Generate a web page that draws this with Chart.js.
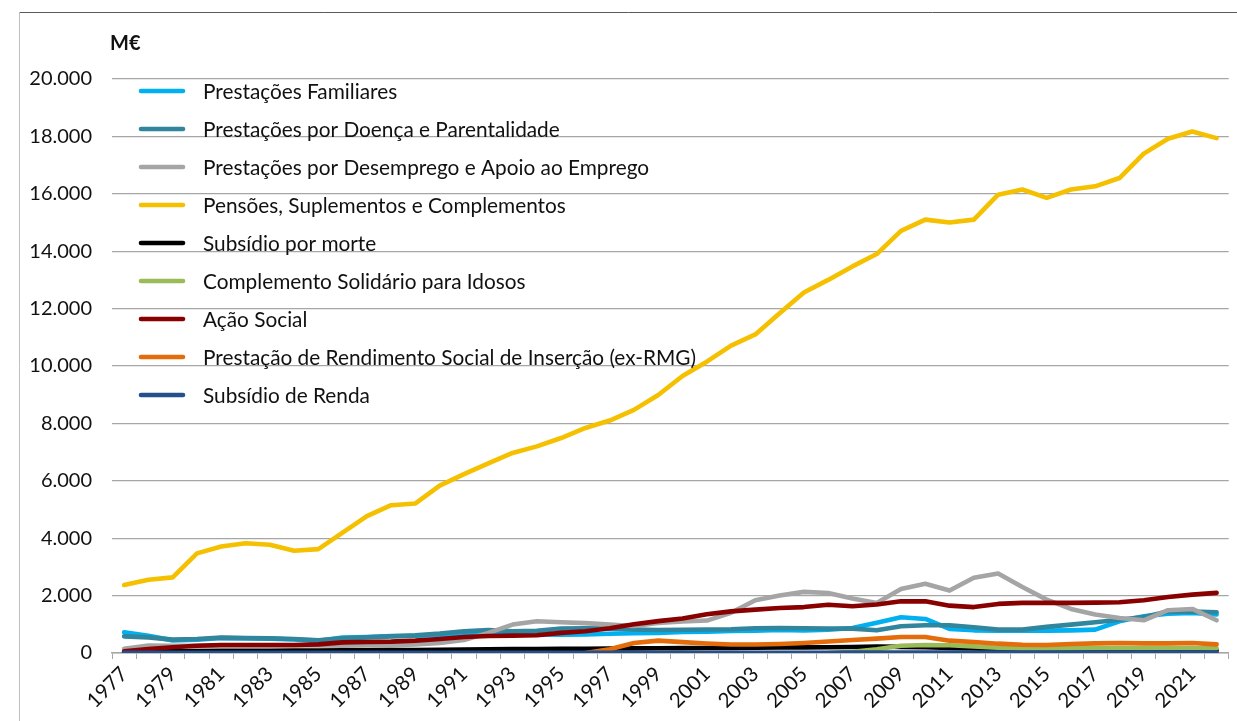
<!DOCTYPE html>
<html><head><meta charset="utf-8">
<script src="https://cdn.jsdelivr.net/npm/chart.js@4.4.1/dist/chart.umd.min.js"></script>
<style>html,body{margin:0;padding:0;background:#fff;}canvas{display:block}</style>
</head><body>
<canvas id="c" width="1237" height="721"></canvas>
<script>
const years = ['1977','1978','1979','1980','1981','1982','1983','1984','1985','1986','1987','1988','1989','1990','1991','1992','1993','1994','1995','1996','1997','1998','1999','2000','2001','2002','2003','2004','2005','2006','2007','2008','2009','2010','2011','2012','2013','2014','2015','2016','2017','2018','2019','2020','2021','2022'];
const yTickLabels = ['0','2.000','4.000','6.000','8.000','10.000','12.000','14.000','16.000','18.000','20.000'];
const unitLabel = 'M€';

const seriesNames = ['Prestações Familiares','Prestações por Doença e Parentalidade','Prestações por Desemprego e Apoio ao Emprego','Pensões, Suplementos e Complementos','Subsídio por morte','Complemento Solidário para Idosos','Ação Social','Prestação de Rendimento Social de Inserção (ex-RMG)','Subsídio de Renda'];
const seriesColors = ['#00B0F0','#31859C','#A5A5A5','#F5C000','#000000','#9BBB59','#880000','#E46C0A','#24508C'];

const familiares = [720,600,440,460,520,510,500,470,430,540,560,590,600,630,660,680,660,650,640,650,670,690,700,730,740,770,780,800,790,810,870,1050,1245,1185,840,790,780,780,780,790,815,1105,1280,1370,1395,1340];
const doenca = [580,545,465,490,535,525,510,490,440,510,545,580,615,675,755,800,760,770,850,860,850,820,800,810,820,830,860,870,860,850,850,790,930,965,965,895,815,815,910,990,1070,1160,1255,1450,1440,1420];
const desemprego = [150,260,250,250,260,260,260,260,260,250,260,270,300,350,450,700,990,1105,1070,1040,990,940,1050,1100,1130,1400,1840,2000,2130,2090,1900,1745,2230,2410,2175,2620,2770,2300,1860,1535,1340,1220,1140,1490,1535,1140];
const pensoes = [2370,2555,2635,3470,3710,3825,3770,3560,3620,4195,4770,5150,5210,5830,6230,6610,6970,7200,7490,7840,8100,8470,8990,9650,10150,10710,11100,11840,12560,13000,13470,13900,14710,15100,15000,15100,15970,16150,15860,16150,16260,16550,17400,17920,18170,17940];
const morte = [30,50,60,70,75,80,80,85,85,90,95,100,105,110,120,130,135,140,145,150,155,160,165,170,175,180,185,190,195,200,210,225,215,200,180,160,115,95,90,90,90,95,95,95,95,95];
const csi = [null,null,null,null,null,null,null,null,null,null,null,null,null,null,null,null,null,null,null,null,null,null,null,null,null,null,null,null,null,0,40,130,250,280,270,230,185,160,160,170,175,175,175,175,175,165];
const acaoSocial = [60,140,200,255,280,280,280,280,300,370,385,395,430,490,555,590,605,620,700,760,860,1000,1110,1200,1350,1450,1510,1570,1600,1680,1630,1690,1800,1800,1650,1600,1710,1745,1745,1745,1755,1770,1840,1950,2035,2095];
const rsi = [null,null,null,null,null,null,null,null,null,null,null,null,null,null,null,null,null,null,null,0,130,350,430,380,330,295,295,315,350,400,455,500,560,560,430,385,325,290,280,315,337,350,337,337,350,300];
const renda = [5,5,5,5,5,5,5,5,5,5,5,5,5,5,5,5,5,5,5,5,5,5,5,5,5,5,5,5,5,10,15,20,20,20,20,20,20,20,20,20,20,20,20,20,20,20];

const seriesData = [familiares, doenca, desemprego, pensoes, morte, csi, acaoSocial, rsi, renda];

const FONT = 'Lato';
const TEXT = '#111111';
const GRID = '#A6A6A6';

const datasets = seriesData.map((d, i) => ({
  label: seriesNames[i],
  data: d,
  borderColor: seriesColors[i],
  backgroundColor: seriesColors[i],
  borderWidth: 4.6,
  pointRadius: 0,
  tension: 0,
  borderJoinStyle: 'round',
  borderCapStyle: 'round',
  spanGaps: false,
  order: seriesData.length - 1 - i
}));

const framePlugin = {
  id: 'frame',
  beforeDraw(chart) {
    const ctx = chart.ctx;
    ctx.save();
    ctx.fillStyle = '#fff';
    ctx.fillRect(0, 0, chart.width, chart.height);
    ctx.lineWidth = 1;
    ctx.strokeStyle = '#5a5a5a';
    ctx.beginPath(); ctx.moveTo(19.5, 12.5); ctx.lineTo(chart.width, 12.5); ctx.stroke();
    ctx.strokeStyle = '#BFBFBF';
    ctx.beginPath(); ctx.moveTo(19.5, 12.5); ctx.lineTo(19.5, chart.height); ctx.stroke();
    ctx.fillStyle = TEXT;
    ctx.font = 'bold 20px ' + FONT;
    ctx.textAlign = 'left';
    ctx.textBaseline = 'alphabetic';
    ctx.fillText(unitLabel, 110, 50);
    ctx.restore();
  }
};

const legendPlugin = {
  id: 'innerLegend',
  afterDatasetsDraw(chart) {
    const ctx = chart.ctx;
    ctx.save();
    ctx.font = '20.8px ' + FONT;
    ctx.textAlign = 'left';
    ctx.textBaseline = 'middle';
    seriesNames.forEach((name, i) => {
      const y = 91 + 38 * i;
      ctx.strokeStyle = seriesColors[i];
      ctx.lineWidth = 4.6;
      ctx.lineCap = 'round';
      ctx.beginPath(); ctx.moveTo(141, y); ctx.lineTo(183, y); ctx.stroke();
      ctx.fillStyle = TEXT;
      ctx.fillText(name, 203, y + 1);
    });
    ctx.restore();
  }
};

new Chart(document.getElementById('c'), {
  type: 'line',
  data: { labels: years, datasets },
  options: {
    responsive: false,
    animation: false,
    devicePixelRatio: 1,
    layout: { padding: { top: 79, right: 0, bottom: 0, left: 0 } },
    plugins: { legend: { display: false }, tooltip: { enabled: false } },
    scales: {
      x: {
        type: 'category',
        offset: true,
        grid: { display: true, drawOnChartArea: false, drawTicks: true, tickLength: 6, offset: true, color: GRID, tickColor: GRID },
        border: { display: true, color: GRID, width: 1.5 },
        ticks: {
          autoSkip: false, maxRotation: 45, minRotation: 45, padding: 3,
          color: TEXT, font: { family: FONT, size: 20.5 },
          callback: (v, i) => (i % 2 === 0 ? years[i] : '')
        },
        afterFit: s => { s.height = 68; }
      },
      y: {
        min: 0, max: 20000,
        grid: { color: GRID, drawTicks: false, lineWidth: 1.2 },
        border: { display: false },
        ticks: {
          stepSize: 2000, padding: 20, color: TEXT, font: { family: FONT, size: 20 },
          callback: (v, i) => yTickLabels[i]
        },
        afterFit: s => { s.width = 112; }
      }
    }
  },
  plugins: [framePlugin, legendPlugin]
});
</script>
</body></html>
